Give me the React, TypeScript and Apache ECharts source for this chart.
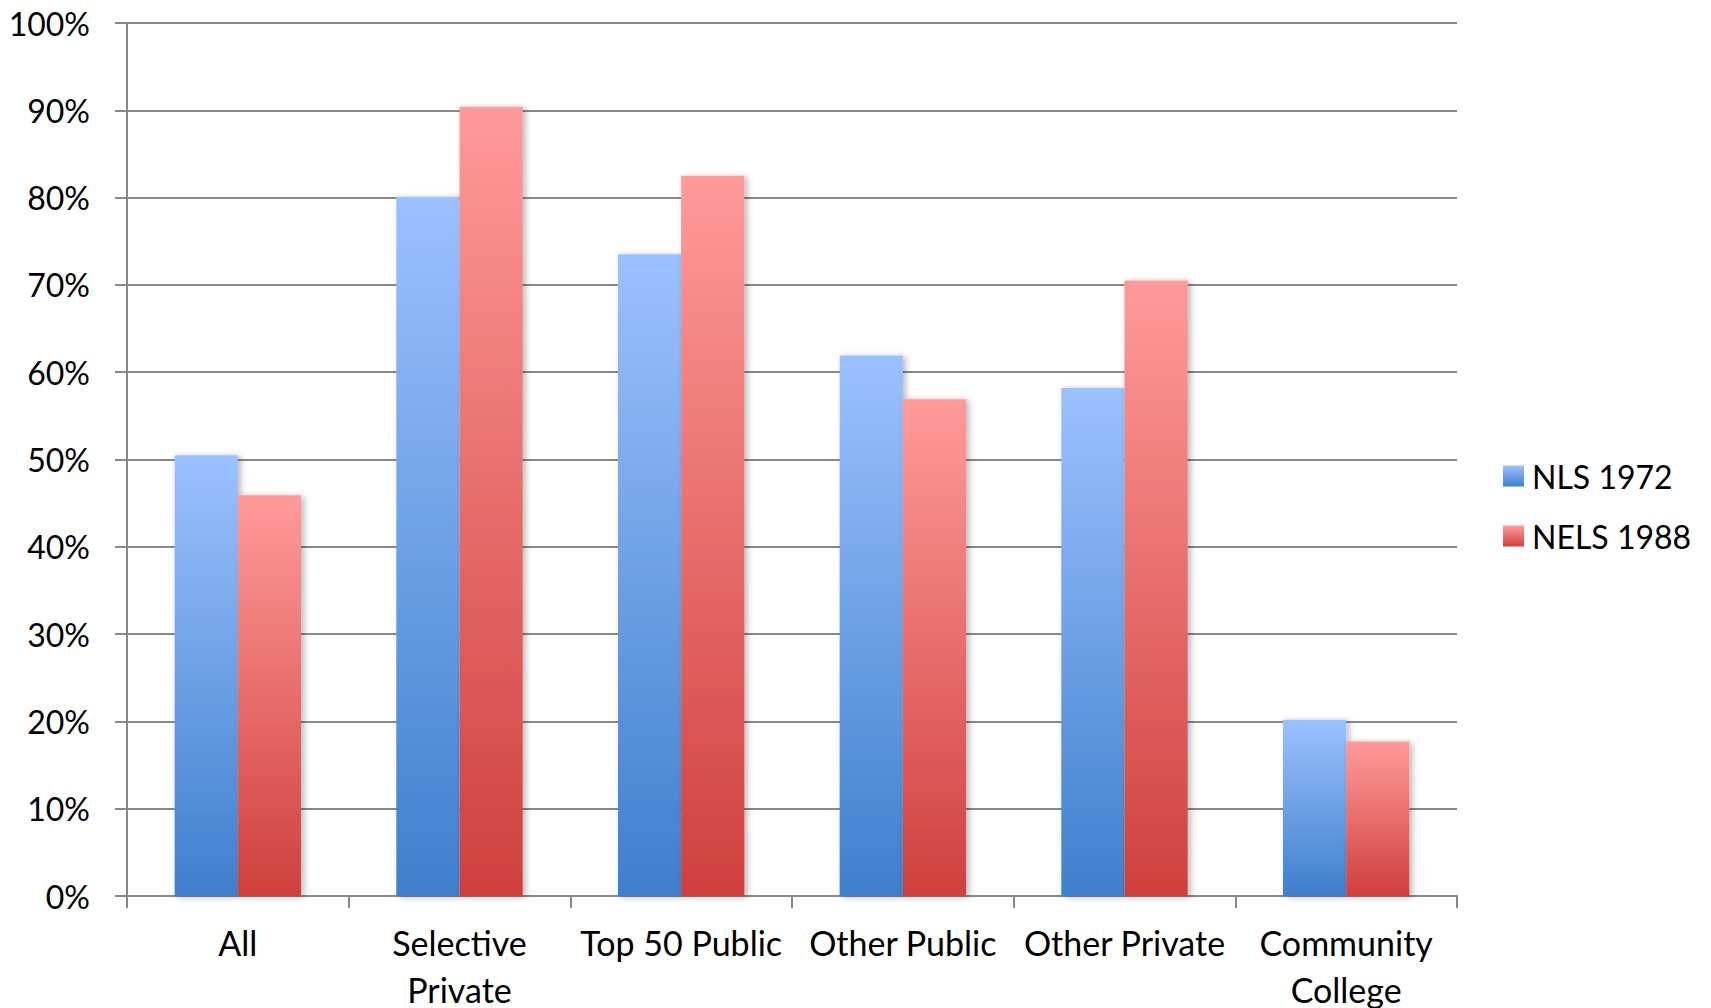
import React, { useEffect, useRef } from "react";
import * as echarts from "echarts";

const categories = ["All", "Selective\nPrivate", "Top 50 Public", "Other Public", "Other Private", "Community\nCollege"];
const seriesNames = ["NLS 1972", "NELS 1988"];
const nls1972 = [50.5, 80.1, 73.5, 61.9, 58.2, 20.2];
const nels1988 = [45.9, 90.4, 82.5, 56.9, 70.5, 17.7];
const yTicks = { min: 0, max: 100, interval: 10 };

const FONT = "Lato";

function grad(top: string, bottom: string) {
  return new echarts.graphic.LinearGradient(0, 0, 0, 1, [
    { offset: 0, color: top },
    { offset: 1, color: bottom },
  ]);
}

export default function App() {
  const ref = useRef<HTMLDivElement>(null);
  useEffect(() => {
    if (!ref.current) return;
    const chart = echarts.init(ref.current, undefined, { renderer: "svg" });
    const blue = grad("#9bc1ff", "#3f7fcc");
    const red = grad("#ff9a9a", "#cf403d");
    const shadow = {
      shadowColor: "rgba(0,0,0,0.28)",
      shadowBlur: 6,
      shadowOffsetX: 3,
      shadowOffsetY: 1,
    };
    chart.setOption({
      animation: false,
      backgroundColor: "#ffffff",
      textStyle: { fontFamily: FONT, color: "#000" },
      grid: {
        left: 127,
        right: 254,
        top: 23,
        bottom: 112,
        containLabel: false,
        outerBoundsMode: "none",
      },
      legend: {
        orient: "vertical",
        left: 1498,
        top: 455,
        itemWidth: 21,
        itemHeight: 21,
        itemGap: 28,
        icon: "rect",
        textStyle: { fontFamily: FONT, fontSize: 32, color: "#000", padding: [0, 0, 0, 3] },
        data: [
          { name: seriesNames[0], itemStyle: { color: blue } },
          { name: seriesNames[1], itemStyle: { color: red } },
        ],
      },
      xAxis: {
        type: "category",
        data: categories,
        boundaryGap: true,
        axisLine: { show: true, lineStyle: { color: "#888", width: 2 } },
        axisTick: { show: true, length: 12, interval: 0, lineStyle: { color: "#888", width: 2 } },
        axisLabel: {
          interval: 0,
          margin: 23,
          fontFamily: FONT,
          fontSize: 34,
          lineHeight: 47,
          color: "#000",
        },
        splitLine: { show: false },
      },
      yAxis: {
        type: "value",
        min: yTicks.min,
        max: yTicks.max,
        interval: yTicks.interval,
        axisLine: { show: true, lineStyle: { color: "#888", width: 2 } },
        axisTick: { show: true, length: 12, lineStyle: { color: "#888", width: 2 } },
        axisLabel: {
          formatter: "{value}%",
          margin: 37,
          fontFamily: FONT,
          fontSize: 32,
          color: "#000",
        },
        splitLine: { show: true, lineStyle: { color: "#888", width: 2 } },
      },
      series: [
        {
          name: seriesNames[0],
          type: "bar",
          data: nls1972,
          barGap: "0%",
          barCategoryGap: "43%",
          itemStyle: { color: blue, ...shadow },
        },
        {
          name: seriesNames[1],
          type: "bar",
          data: nels1988,
          barGap: "0%",
          barCategoryGap: "43%",
          itemStyle: { color: red, ...shadow },
        },
      ],
    });
    return () => chart.dispose();
  }, []);
  return (
    <div
      ref={ref}
      style={{ position: "fixed", left: 0, top: 0, width: 1711, height: 1008, background: "#fff" }}
    />
  );
}
